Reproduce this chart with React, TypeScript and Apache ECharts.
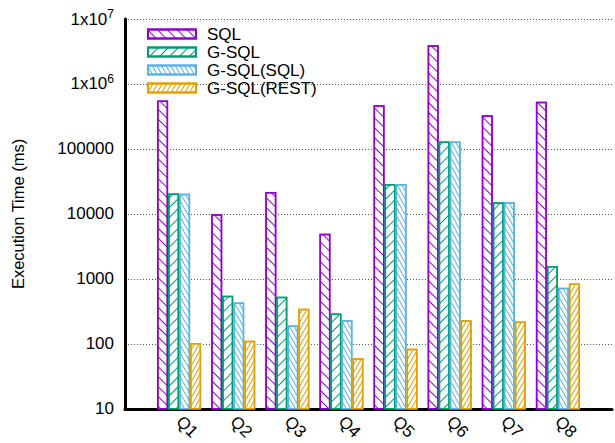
import React, { useEffect, useRef } from "react";
import * as echarts from "echarts";

const categories = ["", "Q1", "Q2", "Q3", "Q4", "Q5", "Q6", "Q7", "Q8", ""];
const seriesNames = ["SQL", "G-SQL", "G-SQL(SQL)", "G-SQL(REST)"];
const sqlValues = [null, 556000, 9900, 21700, 4940, 471000, 3960000, 331000, 531000, null];
const gsqlValues = [null, 20700, 550, 531, 292, 28800, 129700, 15100, 1585, null];
const gsqlSqlValues = [null, 20500, 434, 191, 230, 28800, 129700, 15100, 730, null];
const gsqlRestValues = [null, 103, 112, 348, 60.3, 83.8, 230, 220, 849, null];
const colors = ["#9400d3", "#009e73", "#56b4e9", "#e69f00"];

const FONT = "Liberation Sans";

export default function App() {
  const ref = useRef<HTMLDivElement>(null);
  useEffect(() => {
    const chart = echarts.init(ref.current!, null, { renderer: "svg" });
    const valueSets = [sqlValues, gsqlValues, gsqlSqlValues, gsqlRestValues];
    const decals = [
      { rot: Math.PI / 4, gap: 6 },
      { rot: -Math.PI / 4, gap: 6 },
      { rot: Math.PI / 3, gap: 2.5 },
      { rot: -Math.PI / 3, gap: 2.5 },
    ];
    const series = seriesNames.map((name, i) => ({
      name,
      type: "bar",
      data: valueSets[i],
      barWidth: 11,
      barGap: "0%",
      clip: true,
      itemStyle: {
        color: "#ffffff",
        borderColor: colors[i],
        borderWidth: 1.5,
        decal: {
          symbol: "rect",
          symbolSize: 1,
          dashArrayX: [1, 0],
          dashArrayY: [1, decals[i].gap],
          rotation: decals[i].rot,
          color: colors[i],
          backgroundColor: "#ffffff",
        },
      },
    }));
    chart.setOption({
      animation: false,
      textStyle: { fontFamily: FONT },
      grid: { left: 125, right: 3, top: 19, bottom: 32 },
      legend: {
        orient: "vertical",
        left: 147,
        top: 25,
        padding: 0,
        itemWidth: 48,
        itemHeight: 9,
        itemGap: 0,
        icon: "rect",
        textStyle: { fontSize: 17, color: "#000", fontFamily: FONT, lineHeight: 18, padding: [0, 0, 0, 6] },
        data: seriesNames,
      },
      xAxis: {
        type: "category",
        data: categories,
        boundaryGap: false,
        axisLine: { lineStyle: { color: "#000", width: 3 } },
        axisTick: { show: false },
        splitLine: { show: false },
        axisLabel: {
          rotate: -45,
          margin: 10,
          fontSize: 17,
          color: "#000",
          fontFamily: FONT,
          interval: 0,
        },
      },
      yAxis: {
        type: "log",
        logBase: 10,
        min: 10,
        max: 10000000,
        name: "Execution Time (ms)",
        nameLocation: "middle",
        nameGap: 99,
        nameTextStyle: { fontSize: 16.5, color: "#000", fontFamily: FONT },
        axisLine: { show: true, lineStyle: { color: "#000", width: 3 } },
        axisTick: { show: false },
        splitLine: { show: true, lineStyle: { color: "#555", width: 1, type: [1, 2] } },
        axisLabel: {
          margin: 11,
          color: "#000",
          fontSize: 17,
          fontFamily: FONT,
          formatter: (v: number) => {
            const e = Math.round(Math.log10(v));
            if (e >= 6) return `{a|1x10}{s|${e}}`;
            return `{a|${Math.round(v)}}`;
          },
          rich: {
            a: { fontSize: 17, color: "#000", fontFamily: FONT },
            s: { fontSize: 12, color: "#000", fontFamily: FONT, padding: [0, 0, 10, 0] },
          },
        },
      },
      series,
    });
    return () => chart.dispose();
  }, []);
  return <div ref={ref} style={{ position: "fixed", left: 0, top: 0, width: 615, height: 443, background: "#fff" }} />;
}
